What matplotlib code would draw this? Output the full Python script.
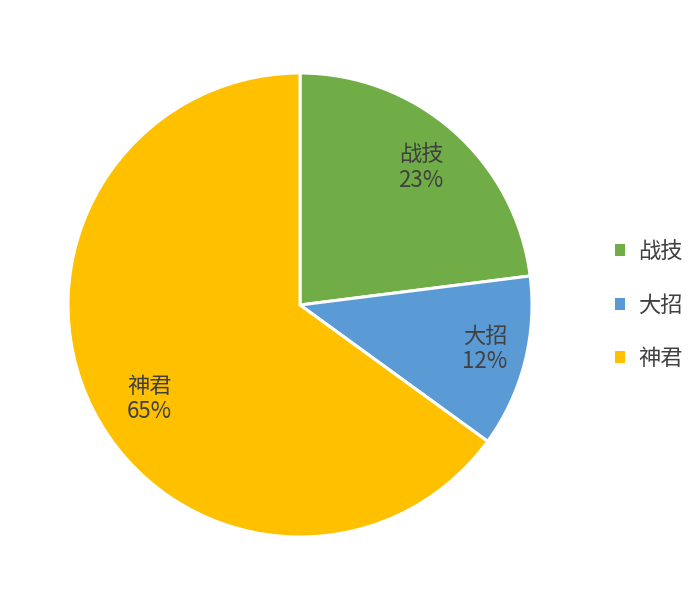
import matplotlib.pyplot as plt
import numpy as np

plt.rcParams["font.family"] = ["Noto Sans CJK SC", "DejaVu Sans"]

# Data
skills = ["战技", "大招", "神君"]
shares = [23, 12, 65]
colors = ["#70AD47", "#5B9BD5", "#FFC000"]

fig = plt.figure(figsize=(7.0, 6.06), dpi=100)
W, H = 700, 606
cx, cy, r = 300, 305, 232
ax = fig.add_axes([(cx - r) / W, (H - cy - r) / H, 2 * r / W, 2 * r / H])

wedges, _ = ax.pie(
    shares,
    colors=colors,
    startangle=90,
    counterclock=False,
    radius=1.0,
    wedgeprops={"edgecolor": "white", "linewidth": 2.2},
)
ax.set_xlim(-1, 1)
ax.set_ylim(-1, 1)
ax.set_aspect("equal")
ax.axis("off")
for w in wedges:
    w.set_clip_on(False)

# Data labels inside each slice (distance, angle nudge in degrees)
dists = [0.79, 0.82, 0.765]
nudges = [0, 1, 5]
for w, name, pct, d, n in zip(wedges, skills, shares, dists, nudges):
    ang = np.deg2rad((w.theta1 + w.theta2) / 2 + n)
    ax.text(
        d * np.cos(ang),
        d * np.sin(ang),
        f"{name}\n{pct}%",
        ha="center",
        va="center",
        fontsize=16,
        color="#404040",
        linespacing=1.15,
    )

leg = fig.legend(
    wedges,
    skills,
    loc="center left",
    bbox_to_anchor=(595 / W, 1 - 305 / H),
    frameon=False,
    fontsize=16,
    handlelength=0.45,
    handleheight=0.45,
    handletextpad=0.6,
    labelspacing=1.38,
    labelcolor="#404040",
)
for p in leg.get_patches():
    p.set_edgecolor("none")

fig.savefig("out.png", dpi=100)
